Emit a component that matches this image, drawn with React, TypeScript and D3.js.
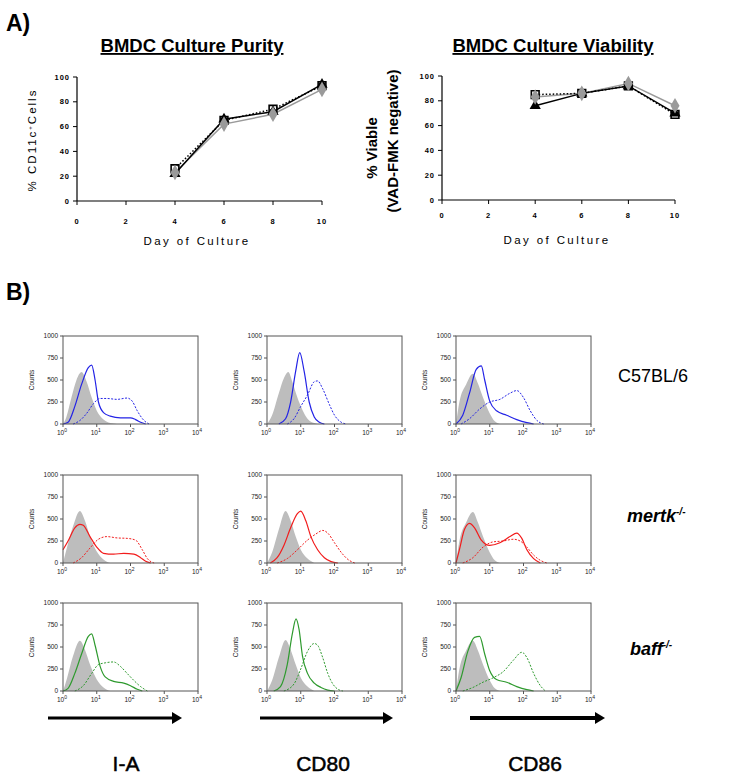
import React from "react";
import * as d3 from "d3";

// ---------- Panel A data ----------
const days = [4, 6, 8, 10];
const purityTriangle = [22, 66, 72, 94];
const puritySquare = [26, 65, 74, 93];
const purityGray = [23, 62, 70, 90];
const viabilityTriangle = [76, 86, 92, 70];
const viabilitySquare = [85, 86, 92, 69];
const viabilityGray = [83, 86, 94, 76];
const dayTicks = [0, 2, 4, 6, 8, 10];
const pctTicks = [0, 20, 40, 60, 80, 100];

// ---------- Panel B data (log10 fluorescence, counts) ----------
const markers = ["I-A", "CD80", "CD86"];
const strains = ["C57BL/6", "mertk", "baff"];
const countTicks = [0, 250, 500, 750, 1000];
const decadeTicks = [0, 1, 2, 3, 4];

type Pt = [number, number];
const isotype: Pt[][][] = [
  [
    [[0, 0], [0.1, 80], [0.25, 300], [0.4, 500], [0.55, 590], [0.7, 480], [0.85, 300], [1.0, 150], [1.2, 50], [1.4, 10], [1.6, 0]],
    [[0, 0], [0.15, 100], [0.35, 350], [0.5, 520], [0.63, 590], [0.75, 480], [0.9, 300], [1.05, 160], [1.2, 60], [1.4, 10], [1.5, 0]],
    [[0, 0], [0.1, 250], [0.3, 450], [0.5, 570], [0.65, 460], [0.8, 300], [1.0, 120], [1.15, 30], [1.3, 0]],
  ],
  [
    [[0, 0], [0.1, 150], [0.3, 420], [0.5, 590], [0.65, 480], [0.8, 300], [1.0, 130], [1.2, 40], [1.4, 0]],
    [[0, 0], [0.15, 120], [0.35, 380], [0.55, 590], [0.7, 480], [0.85, 300], [1.0, 150], [1.2, 50], [1.4, 0]],
    [[0, 0], [0.1, 250], [0.3, 460], [0.5, 580], [0.65, 460], [0.8, 300], [1.0, 120], [1.15, 30], [1.3, 0]],
  ],
  [
    [[0, 0], [0.1, 120], [0.3, 400], [0.5, 570], [0.65, 470], [0.8, 300], [1.0, 130], [1.2, 40], [1.4, 0]],
    [[0, 0], [0.15, 120], [0.35, 380], [0.55, 580], [0.7, 470], [0.85, 300], [1.0, 150], [1.2, 50], [1.4, 0]],
    [[0, 0], [0.1, 250], [0.3, 460], [0.5, 570], [0.65, 460], [0.8, 300], [1.0, 120], [1.15, 30], [1.3, 0]],
  ],
];
const unstimulated: Pt[][][] = [
  [
    [[0, 0], [0.15, 20], [0.35, 200], [0.55, 450], [0.75, 640], [0.85, 670], [0.95, 500], [1.05, 250], [1.2, 130], [1.4, 90], [1.7, 70], [2.0, 70], [2.15, 50], [2.3, 20], [2.45, 0]],
    [[0.35, 0], [0.55, 60], [0.7, 250], [0.85, 600], [0.97, 810], [1.1, 600], [1.25, 250], [1.4, 80], [1.55, 20], [1.7, 0]],
    [[0, 0], [0.2, 100], [0.4, 350], [0.6, 620], [0.75, 660], [0.85, 500], [1.0, 260], [1.2, 150], [1.5, 100], [1.8, 50], [2.1, 15], [2.3, 0]],
  ],
  [
    [[0, 150], [0.15, 250], [0.35, 400], [0.5, 440], [0.6, 430], [0.8, 300], [1.0, 180], [1.2, 110], [1.5, 100], [1.8, 110], [2.1, 100], [2.3, 60], [2.45, 20], [2.6, 0]],
    [[0.1, 0], [0.3, 60], [0.5, 200], [0.7, 400], [0.9, 560], [1.0, 590], [1.15, 480], [1.3, 300], [1.5, 150], [1.7, 60], [1.9, 15], [2.1, 0]],
    [[0, 0], [0.1, 150], [0.25, 380], [0.4, 450], [0.55, 400], [0.75, 260], [1.0, 200], [1.3, 230], [1.6, 300], [1.8, 340], [1.95, 280], [2.1, 150], [2.3, 50], [2.5, 0]],
  ],
  [
    [[0, 0], [0.15, 30], [0.35, 200], [0.55, 420], [0.75, 620], [0.85, 650], [0.95, 520], [1.1, 280], [1.25, 160], [1.5, 110], [1.8, 90], [2.0, 60], [2.2, 20], [2.35, 0]],
    [[0.2, 0], [0.4, 50], [0.6, 300], [0.75, 650], [0.86, 820], [0.95, 700], [1.05, 400], [1.2, 200], [1.4, 90], [1.6, 40], [1.8, 10], [2.0, 0]],
    [[0, 0], [0.15, 150], [0.35, 450], [0.55, 610], [0.7, 620], [0.85, 420], [1.0, 230], [1.2, 130], [1.5, 100], [1.8, 50], [2.1, 15], [2.3, 0]],
  ],
];
const stimulated: Pt[][][] = [
  [
    [[0.3, 0], [0.5, 40], [0.7, 120], [0.9, 230], [1.1, 290], [1.3, 290], [1.6, 280], [1.9, 295], [2.05, 260], [2.2, 150], [2.4, 40], [2.55, 0]],
    [[0.6, 0], [0.8, 60], [1.0, 200], [1.2, 330], [1.4, 480], [1.5, 490], [1.65, 400], [1.85, 220], [2.0, 100], [2.2, 20], [2.35, 0]],
    [[0.15, 0], [0.4, 60], [0.7, 170], [1.0, 250], [1.3, 280], [1.6, 350], [1.8, 380], [2.0, 300], [2.2, 150], [2.4, 40], [2.6, 0]],
  ],
  [
    [[0.3, 0], [0.55, 60], [0.8, 170], [1.05, 270], [1.3, 300], [1.6, 285], [1.9, 280], [2.15, 260], [2.35, 150], [2.5, 50], [2.7, 0]],
    [[0.3, 0], [0.6, 50], [0.9, 150], [1.2, 260], [1.45, 330], [1.65, 370], [1.8, 340], [2.0, 230], [2.2, 120], [2.4, 40], [2.6, 0]],
    [[0.2, 0], [0.5, 60], [0.8, 180], [1.1, 240], [1.4, 250], [1.7, 270], [1.9, 250], [2.1, 180], [2.3, 90], [2.5, 30], [2.7, 0]],
  ],
  [
    [[0.35, 0], [0.6, 60], [0.85, 200], [1.05, 300], [1.25, 320], [1.5, 330], [1.7, 280], [1.9, 200], [2.1, 120], [2.3, 50], [2.5, 0]],
    [[0.5, 0], [0.8, 80], [1.0, 250], [1.2, 450], [1.4, 540], [1.5, 520], [1.65, 380], [1.8, 200], [1.95, 80], [2.1, 20], [2.25, 0]],
    [[0.2, 0], [0.5, 40], [0.8, 100], [1.1, 150], [1.4, 220], [1.7, 350], [1.95, 440], [2.1, 380], [2.3, 200], [2.5, 60], [2.65, 0]],
  ],
];
const strainColors = ["#2323e6", "#f21c1c", "#2e9a2e"];

const FONT = "'Liberation Sans', Arial, sans-serif";

function LinePanel(props: {
  left: number; right: number; top: number; bottom: number;
  title: string; titleX: number; tickLabelY: number; xLabelY: number; xLabelX: number;
  tri: number[]; sq: number[]; gr: number[];
}) {
  const { left, right, top, bottom, tri, sq, gr } = props;
  const x = d3.scaleLinear().domain([0, 10]).range([left, right]);
  const y = d3.scaleLinear().domain([0, 100]).range([bottom, top]);
  const line = (vals: number[]) =>
    d3.line<number>().x((_, i) => x(days[i])).y((v) => y(v))(vals) || "";
  const triSym = d3.symbol().type(d3.symbolTriangle).size(55)() || "";
  const sqSym = d3.symbol().type(d3.symbolSquare).size(60)() || "";
  const grSym = d3.symbol().type(d3.symbolDiamond).size(70)() || "";
  return (
    <g fontFamily={FONT}>
      <text x={props.titleX} y={52} textAnchor="middle" fontSize={18.5} fontWeight="bold" textDecoration="underline">
        {props.title}
      </text>
      <line x1={left} x2={right} y1={bottom} y2={bottom} stroke="#000" strokeWidth={1.2} />
      <line x1={left} x2={left} y1={top} y2={bottom} stroke="#000" strokeWidth={1.2} />
      {pctTicks.map((t) => (
        <g key={"y" + t}>
          <line x1={left - 4} x2={left} y1={y(t)} y2={y(t)} stroke="#000" />
          <text x={left - 7} y={y(t) + 2.5} textAnchor="end" fontSize={7.5} fontWeight="bold" letterSpacing={1}>
            {t}
          </text>
        </g>
      ))}
      {dayTicks.map((t) => (
        <g key={"x" + t}>
          <line x1={x(t)} x2={x(t)} y1={bottom} y2={bottom + 4} stroke="#000" />
          <text x={x(t)} y={props.tickLabelY} textAnchor="middle" fontSize={7.5} fontWeight="bold" letterSpacing={1}>
            {t}
          </text>
        </g>
      ))}
      <text x={props.xLabelX} y={props.xLabelY} textAnchor="middle" fontSize={11.5} letterSpacing={2.4}>
        Day of Culture
      </text>
      <path d={line(gr)} fill="none" stroke="#9a9a9a" strokeWidth={1.5} />
      <path d={line(sq)} fill="none" stroke="#000" strokeWidth={1.5} strokeDasharray="1.5,2" />
      <path d={line(tri)} fill="none" stroke="#000" strokeWidth={1.5} />
      {days.map((d, i) => (
        <g key={"m" + d}>
          <path d={sqSym} transform={`translate(${x(d)},${y(sq[i])})`} fill="#fff" fillOpacity={0.2} stroke="#000" strokeWidth={1.6} />
          <path d={triSym} transform={`translate(${x(d)},${y(tri[i])})`} fill="#000" />
          <path d={grSym} transform={`translate(${x(d)},${y(gr[i])})`} fill="#9a9a9a" />
        </g>
      ))}
    </g>
  );
}

function Histogram(props: { left: number; top: number; r: number; c: number }) {
  const W = 135, H = 88;
  const { left, top, r, c } = props;
  const x = d3.scaleLog().domain([1, 1e4]).range([left, left + W]);
  const y = d3.scaleLinear().domain([0, 1000]).range([top + H, top]);
  const area = d3.area<Pt>().x((p) => x(Math.pow(10, p[0]))).y0(y(0)).y1((p) => y(p[1])).curve(d3.curveMonotoneX);
  const ln = d3.line<Pt>().x((p) => x(Math.pow(10, p[0]))).y((p) => y(p[1])).curve(d3.curveMonotoneX);
  const col = strainColors[r];
  return (
    <g fontFamily={FONT}>
      <path d={area(isotype[r][c]) || ""} fill="#bdbdbd" />
      <path d={ln(stimulated[r][c]) || ""} fill="none" stroke={col} strokeWidth={1} strokeDasharray="2,1.5" />
      <path d={ln(unstimulated[r][c]) || ""} fill="none" stroke={col} strokeWidth={1.2} />
      <rect x={left} y={top} width={W} height={H} fill="none" stroke="#555" strokeWidth={1} />
      {countTicks.map((t) => (
        <g key={"c" + t}>
          <line x1={left - 3} x2={left} y1={y(t)} y2={y(t)} stroke="#555" />
          <text x={left - 5} y={y(t) + 2.3} textAnchor="end" fontSize={6.5} fill="#222">
            {t}
          </text>
        </g>
      ))}
      {decadeTicks.map((t) => (
        <g key={"d" + t}>
          <line x1={x(Math.pow(10, t))} x2={x(Math.pow(10, t))} y1={top + H} y2={top + H + 3} stroke="#555" />
          <text x={x(Math.pow(10, t)) - 1} y={top + H + 11} textAnchor="middle" fontSize={6.5} fill="#222">
            10<tspan dy={-3} fontSize={5}>{t}</tspan>
          </text>
        </g>
      ))}
      <text transform={`translate(${left - 29},${top + H / 2}) rotate(-90)`} textAnchor="middle" fontSize={6.5} fill="#222">
        Counts
      </text>
    </g>
  );
}

function Arrow(props: { x1: number; x2: number; y: number; w: number }) {
  const { x1, x2, y, w } = props;
  return (
    <g>
      <line x1={x1} x2={x2 - 8} y1={y} y2={y} stroke="#000" strokeWidth={w} />
      <path d={`M${x2 - 10},${y - 6} L${x2},${y} L${x2 - 10},${y + 6} Z`} fill="#000" />
    </g>
  );
}

export default function App() {
  const colLefts = [63, 267, 456];
  const rowTops = [336, 475, 603];
  return (
    <svg width={729} height={783} style={{ position: "absolute", left: 0, top: 0, background: "#fff" }}>
      <rect width={729} height={783} fill="#fff" />
      <text x={6} y={31} fontFamily={FONT} fontSize={23} fontWeight="bold">A)</text>
      <text x={6} y={300} fontFamily={FONT} fontSize={23} fontWeight="bold">B)</text>

      <LinePanel left={77} right={322} top={77} bottom={201} title="BMDC Culture Purity" titleX={192}
        tickLabelY={224} xLabelY={245} xLabelX={197} tri={purityTriangle} sq={puritySquare} gr={purityGray} />
      <text transform="translate(36,140) rotate(-90)" textAnchor="middle" fontFamily={FONT} fontSize={11.5} letterSpacing={2}>
        % CD11c<tspan dy={-4} fontSize={6}>+</tspan><tspan dy={4}>Cells</tspan>
      </text>

      <LinePanel left={442} right={675} top={76} bottom={200} title="BMDC Culture Viability" titleX={553}
        tickLabelY={218} xLabelY={244} xLabelX={557} tri={viabilityTriangle} sq={viabilitySquare} gr={viabilityGray} />
      <text transform="translate(377,148) rotate(-90)" textAnchor="middle" fontFamily={FONT} fontSize={15} fontWeight="bold">
        % Viable
      </text>
      <text transform="translate(398,141) rotate(-90)" textAnchor="middle" fontFamily={FONT} fontSize={15} fontWeight="bold">
        (VAD-FMK negative)
      </text>

      {rowTops.map((t, r) =>
        colLefts.map((l, c) => <Histogram key={`${r}-${c}`} left={l} top={t} r={r} c={c} />)
      )}

      <text x={618} y={382} fontFamily={FONT} fontSize={18}>{strains[0]}</text>
      <text x={627} y={522} fontFamily={FONT} fontSize={18} fontWeight="bold" fontStyle="italic">
        {strains[1]}<tspan dy={-7} fontSize={10}>-/-</tspan>
      </text>
      <text x={630} y={655} fontFamily={FONT} fontSize={18} fontWeight="bold" fontStyle="italic">
        {strains[2]}<tspan dy={-7} fontSize={10}>-/-</tspan>
      </text>

      <Arrow x1={48} x2={182} y={718} w={3} />
      <Arrow x1={260} x2={393} y={718} w={3} />
      <Arrow x1={470} x2={605} y={718} w={4} />

      <g fontFamily={FONT} fontSize={21} stroke="#000" strokeWidth={0.5} textAnchor="middle">
        <text x={126} y={771}>{markers[0]}</text>
        <text x={323} y={771}>{markers[1]}</text>
        <text x={535} y={771}>{markers[2]}</text>
      </g>
    </svg>
  );
}
